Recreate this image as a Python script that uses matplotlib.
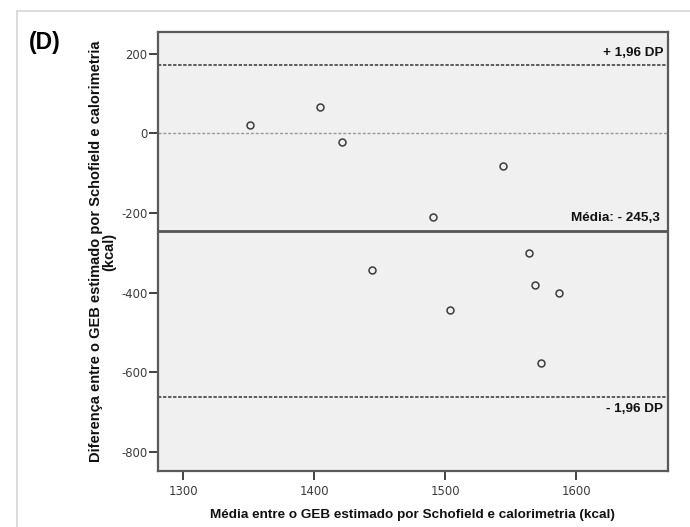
import matplotlib
matplotlib.use("Agg")
import matplotlib.pyplot as plt
from matplotlib import font_manager
from matplotlib.lines import Line2D

# ---- data ----
media = [1350.7, 1404.1, 1420.9, 1543.8, 1490.4, 1444.4, 1564.1, 1568.7, 1587.0, 1503.4, 1573.1]
diferenca = [21.6, 65.3, -21.8, -81.3, -209.4, -344.0, -299.3, -381.6, -401.0, -444.1, -577.5]
mean_diff = -245.3
upper_loa = 171.5
lower_loa = -662.1
x_ticks = [1300, 1400, 1500, 1600]
y_ticks = [200, 0, -200, -400, -600, -800]
xlim = (1280.5, 1669.8)
ylim = (-847.8, 254.3)

fonts = font_manager.fontManager.ttflist
has_condensed = any(f.name == "DejaVu Sans" and f.stretch in ("condensed", 600) and f.weight in (400, "normal")
                    for f in fonts) or any("Condensed" in f.fname and "DejaVuSans" in f.fname for f in fonts)
if has_condensed:
    tick_kw = dict(family="DejaVu Sans", fontstretch="condensed", fontsize=9.3)
else:
    tick_kw = dict(family="Liberation Sans", fontsize=9.8)
bold_family = "Liberation Sans"

W, H = 690, 527
fig = plt.figure(figsize=(W / 100, H / 100), dpi=100)
fig.patch.set_facecolor("white")

# outer frame (top and left visible)
fig.add_artist(Line2D([16.7 / W, 1.0], [1 - 10.7 / H, 1 - 10.7 / H], transform=fig.transFigure,
                      color="#d6d6d6", lw=1.2))
fig.add_artist(Line2D([16.7 / W, 16.7 / W], [0.0, 1 - 10.7 / H], transform=fig.transFigure,
                      color="#d6d6d6", lw=1.2))

left, right, top, bottom = 157.7, 667.7, 32.0, 471.0
ax = fig.add_axes([left / W, 1 - bottom / H, (right - left) / W, (bottom - top) / H])
ax.set_facecolor("#f0f0f0")
for s in ax.spines.values():
    s.set_color("#5a5a5a")
    s.set_linewidth(1.6)

ax.set_xlim(*xlim)
ax.set_ylim(*ylim)
ax.set_xticks(x_ticks)
ax.set_yticks(y_ticks)
ax.set_xticklabels([str(v) for v in x_ticks])
ax.set_yticklabels([str(v) for v in y_ticks])
ax.tick_params(axis="both", direction="out", length=6.5, width=1.3, color="#333333",
               labelcolor="#3a3a3a")
ax.tick_params(axis="y", pad=0.8)
ax.tick_params(axis="x", pad=3.5)
for lab in ax.get_xticklabels() + ax.get_yticklabels():
    lab.set(**tick_kw)

# reference lines
ax.axhline(0, color="#9a9a9a", lw=1.0, ls=(0, (2.2, 1.3)), zorder=1)
ax.axhline(upper_loa, color="#333333", lw=1.1, ls=(0, (2.2, 1.1)), zorder=1)
ax.axhline(lower_loa, color="#333333", lw=1.1, ls=(0, (2.2, 1.1)), zorder=1)
ax.axhline(mean_diff, color="#555555", lw=2.0, zorder=1)

# points
ax.plot(media, diferenca, ls="none", marker="o", markersize=5.0, markerfacecolor="none",
        markeredgecolor="#3c3c3c", markeredgewidth=1.1, zorder=3)

# line labels
txt_kw = dict(family=bold_family, fontweight="bold", fontsize=9.7, color="#111111",
              ha="right", xycoords=("axes fraction", "data"), textcoords="offset points")
ax.annotate("+ 1,96 DP", xy=(0.9914, upper_loa), xytext=(0, 4.3), va="bottom", **txt_kw)
ax.annotate("Média: - 245,3", xy=(0.985, mean_diff), xytext=(0, 5.0), va="bottom", **txt_kw)
ax.annotate("- 1,96 DP", xy=(0.99, lower_loa), xytext=(0, -4.3), va="top", **txt_kw)

# axis labels
fig.text((left + right) / 2 / W, 1 - 515 / H,
         "Média entre o GEB estimado por Schofield e calorimetria (kcal)",
         family=bold_family, fontweight="bold", fontsize=9.7, color="#111111",
         ha="center", va="center")
fig.text(102.5 / W, 1 - 251.5 / H,
         "Diferença entre o GEB estimado por Schofield e calorimetria\n(kcal)",
         family=bold_family, fontweight="bold", fontsize=10.5, color="#111111",
         ha="center", va="center", rotation=90, multialignment="center", linespacing=0.92)

# panel label
fig.text(45 / W, 1 - 42.5 / H, "(D)", family=bold_family, fontweight="bold",
         fontsize=16.5, color="#000000", ha="center", va="center")

fig.savefig("out.png", dpi=100, facecolor="white")
